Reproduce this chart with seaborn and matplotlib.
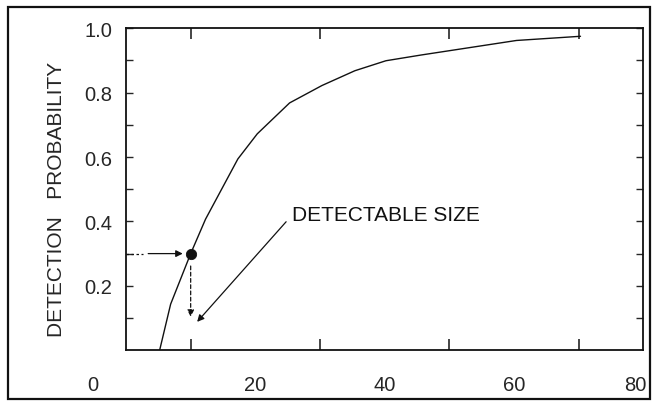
import matplotlib.pyplot as plt
import matplotlib.patches as mpatches
import matplotlib.transforms as mtransforms
import pandas as pd
import seaborn as sns

#################### DATA ####################
size = [5.2, 6.9, 10.0, 12.3, 17.3, 20.3, 25.3, 30.3, 35.4, 40.2, 45.7, 60.4, 70.3]
prob = [0.0, 0.143, 0.30, 0.407, 0.594, 0.672, 0.768, 0.822, 0.868, 0.899, 0.917, 0.962, 0.975]

detect_size = [10.0]
detect_prob = [0.30]

x_ticks = [0, 20, 40, 60, 80]
x_labels = ["0", "20", "40", "60", "80"]
y_ticks = [0.2, 0.4, 0.6, 0.8, 1.0]
y_labels = ["0.2", "0.4", "0.6", "0.8", "1.0"]

note_text = "DETECTABLE SIZE"

#################### CONFIG ####################
sns.set_style("ticks")
plt.rcParams["font.family"] = ["Liberation Sans", "DejaVu Sans"]
plt.rcParams["font.size"] = 14.5

INK = "#111111"

df = pd.DataFrame({"size": size, "prob": prob})
dot = pd.DataFrame({"size": detect_size, "prob": detect_prob})

fig = plt.figure(figsize=(6.53, 4.06), dpi=100)
ax = fig.add_axes([0.193, 0.135, 0.792, 0.793])

sns.lineplot(data=df, x="size", y="prob", ax=ax, color=INK, linewidth=1.0)
sns.scatterplot(data=dot, x="size", y="prob", ax=ax, color=INK, s=55,
                edgecolor=INK, zorder=5)

ax.set_xlim(0, 80)
ax.set_ylim(0, 1.0)

# major ticks carry labels, minor ones are the small inward marks
ax.set_xticks(x_ticks)
ax.set_xticklabels(x_labels)
ax.set_xticks(range(10, 80, 10), minor=True)
ax.set_yticks(y_ticks)
ax.set_yticklabels(y_labels)
ax.set_yticks([i / 10 for i in range(1, 10)], minor=True)

ax.tick_params(axis="x", which="major", length=0, pad=18, labelsize=14.5)
ax.tick_params(axis="x", which="minor", direction="in", length=8, width=1.2,
               top=True, bottom=True)
ax.tick_params(axis="y", which="major", direction="in", length=5, width=1.0,
               pad=10, labelsize=14.5, right=True)
ax.tick_params(axis="y", which="minor", direction="in", length=5, width=1.0,
               right=True, left=True)

# the scanned "0" sits well left of the axis corner
offset = mtransforms.ScaledTranslation(-0.33, 0, fig.dpi_scale_trans)
lbl0 = ax.get_xticklabels()[0]
lbl0.set_transform(lbl0.get_transform() + offset)
offset80 = mtransforms.ScaledTranslation(-0.08, 0, fig.dpi_scale_trans)
lbl80 = ax.get_xticklabels()[-1]
lbl80.set_transform(lbl80.get_transform() + offset80)

for sp in ax.spines.values():
    sp.set_linewidth(1.3)
    sp.set_color(INK)

ax.set_xlabel("")
ax.set_ylabel("DETECTION   PROBABILITY", fontsize=15)
ax.yaxis.set_label_coords(-0.117, 0.47)

# read-off arrows from the detectable point
x0, y0 = detect_size[0], detect_prob[0]
ax.plot([0, 2.6], [y0, y0], color=INK, lw=0.9, ls=(0, (2, 2)))
ax.annotate("", xy=(x0 - 0.8, y0), xytext=(3.0, y0),
            arrowprops=dict(arrowstyle="-|>", color=INK, lw=0.9,
                            mutation_scale=10))
ax.annotate("", xy=(x0, 0.095), xytext=(x0, y0 - 0.03),
            arrowprops=dict(arrowstyle="-|>", color=INK, lw=0.9,
                            linestyle=(0, (3, 2)), mutation_scale=10))
ax.annotate(note_text, xy=(x0 + 1.0, 0.088), xytext=(25.7, 0.423),
            fontsize=15, va="center", ha="left", color=INK,
            arrowprops=dict(arrowstyle="-|>", color=INK, lw=0.9,
                            mutation_scale=10, shrinkA=3, shrinkB=0,
                            relpos=(0, 0.45)))

# outer frame round the whole figure
frame = mpatches.Rectangle((0.012, 0.015), 0.983, 0.965, transform=fig.transFigure,
                           fill=False, edgecolor=INK, linewidth=1.6)
fig.patches.append(frame)

plt.savefig("out.png", facecolor="white", dpi=100)
